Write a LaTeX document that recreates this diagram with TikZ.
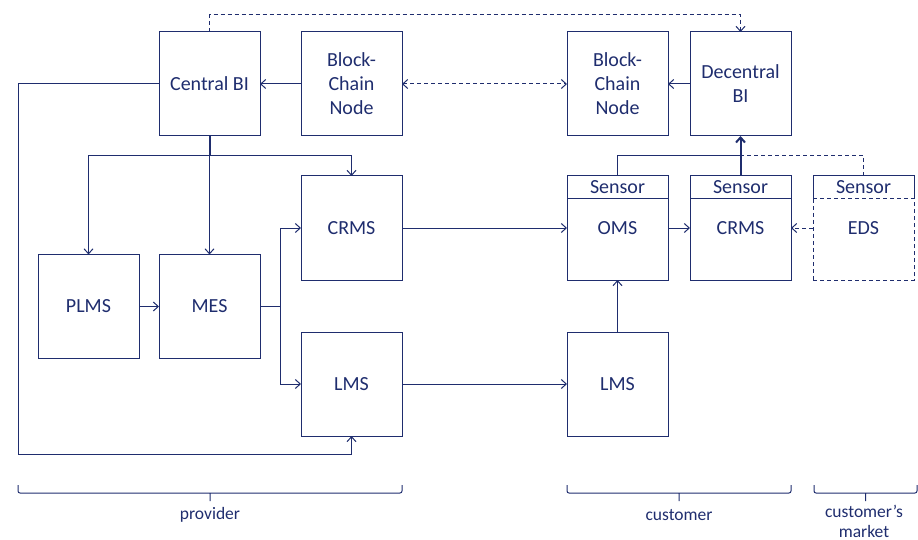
\documentclass[tikz,border=0pt]{standalone}
\usepackage{fontspec}
\setmainfont{Carlito}
\usepackage{tikz}
\usetikzlibrary{arrows.meta,positioning}
\definecolor{Navy}{HTML}{1F2D6E}

\begin{document}
\begin{tikzpicture}[x=1pt,y=-1pt,>={Straight Barb[length=5pt,width=9pt]},line width=1pt,draw=Navy,text=Navy,font=\fontsize{20}{24}\selectfont,
  dsh/.style={dash pattern=on 4pt off 3pt},
  box/.style={draw=Navy,minimum width=101pt,minimum height=104pt,inner sep=0pt,outer sep=0pt,align=center},
  hdr/.style={draw=Navy,minimum width=101pt,minimum height=23pt,inner sep=0pt,outer sep=0pt,anchor=north},
  lbl/.style={font=\fontsize{17.5}{20}\selectfont,align=center}]
  \useasboundingbox (0,0) rectangle (918,540);
  % provider
  \node[box] (cbi) at (209.5,84) {Central BI};
  \node[box] (bcl) at (351.5,84) {Block-\\Chain\\Node};
  \node[box] (plms) at (88.5,306.5) {PLMS};
  \node[box] (mes) at (209.5,306.5) {MES};
  \node[box] (crms) at (351.5,228) {CRMS};
  \node[box] (lms) at (351.5,384) {LMS};
  % customer
  \node[box] (bcr) at (617.5,84) {Block-\\Chain\\Node};
  \node[box] (dbi) at (740.5,84) {Decentral\\BI};
  \node[box] (oms) at (617.5,228) {OMS};
  \node[box] (crmsr) at (740.5,228) {CRMS};
  \node[box] (lmsr) at (617.5,384) {LMS};
  \node[box,dsh] (eds) at (863.5,228) {EDS};
  \node[hdr] (soms) at (oms.north) {Sensor};
  \node[hdr] (scrms) at (crmsr.north) {Sensor};
  \node[hdr,dsh] (seds) at (eds.north) {Sensor};
  \coordinate (split) at (209.5,156);
  \coordinate (join) at (740.5,156);
  % connectors
  \draw[->] (bcl) -- (cbi);
  \draw[<->,dsh] (bcl) -- (bcr);
  \draw[->] (dbi) -- (bcr);
  \draw[->,dsh] (cbi.north) -- ++(0,-17) -| (dbi.north);
  \draw[line width=2pt] (cbi.south) -- (split);
  \draw[->] (split) -| (plms.north);
  \draw[->] (split) -- (mes.north);
  \draw[->] (split) -| (crms.north);
  \draw[->] (plms) -- (mes);
  \draw[->] (mes.east) -- ++(20,0) |- (crms.west);
  \draw[->] (mes.east) -- ++(20,0) |- (lms.west);
  \draw[->] (cbi.west) -| (18,454) -| (lms.south);
  \draw[->] (crms) -- (oms);
  \draw[->] (lms) -- (lmsr);
  \draw[->] (lmsr) -- (oms);
  \draw[->] (oms) -- (crmsr);
  \draw[->,dsh] (eds) -- (crmsr);
  \draw[->,line width=2pt] (crmsr.north) -- (dbi.south);
  \draw (oms.north) |- (join);
  \draw[dsh] (eds.north) |- (join);
  % braces
  \foreach \a/\b/\m in {18/402/210,567/791/679,814/917/865.5}{
    \draw[rounded corners=2pt] (\a,485) -- (\a,493) -- (\b,493) -- (\b,485) (\m,493) -- (\m,501);}
  \node[lbl] (prov) at (210,515) {provider};
  \node[lbl] (cust) at (679,515) {customer};
  \node[lbl] (mark) at (864,521) {customer’s\\market};
\end{tikzpicture}
\end{document}
